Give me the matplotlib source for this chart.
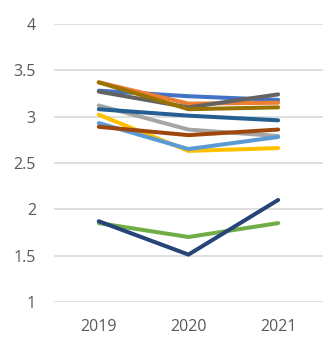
import matplotlib; matplotlib.use("Agg")
import matplotlib.pyplot as plt

years = ["2019", "2020", "2021"]

# series values (one list per line)
s_blue      = [3.28, 3.22, 3.18]
s_orange    = [3.37, 3.14, 3.15]
s_lgray     = [3.12, 2.86, 2.79]
s_yellow    = [3.02, 2.63, 2.66]
s_lblue     = [2.93, 2.65, 2.78]
s_green     = [1.85, 1.70, 1.85]
s_navy      = [1.87, 1.51, 2.10]
s_brown     = [2.89, 2.80, 2.86]
s_dgray     = [3.27, 3.10, 3.24]
s_olive     = [3.37, 3.08, 3.10]
s_dblue     = [3.08, 3.01, 2.96]

series = [s_blue, s_orange, s_lgray, s_yellow, s_lblue, s_green,
          s_navy, s_brown, s_dgray, s_olive, s_dblue]
colors = ["#4472C4", "#ED7D31", "#A5A5A5", "#FFC000", "#5B9BD5", "#70AD47",
          "#264478", "#9E480E", "#636363", "#997300", "#255E91"]

fig = plt.figure(figsize=(3.23, 3.38), dpi=100)
ax = fig.add_axes([0.167, 0.107, 0.833, 0.822])

x = range(len(years))
for vals, c in zip(series, colors):
    ax.plot(x, vals, color=c, lw=2.9, solid_capstyle="round", solid_joinstyle="round")

ax.set_xlim(-0.5, 2.5)
ax.set_ylim(1, 4)
ax.set_yticks([1, 1.5, 2, 2.5, 3, 3.5, 4])
ax.set_yticklabels(["1", "1.5", "2", "2.5", "3", "3.5", "4"])
ax.set_xticks(list(x))
ax.set_xticklabels(years)
ax.grid(axis="y", color="#D9D9D9", lw=1.2)
ax.set_axisbelow(True)
for sp in ax.spines.values():
    sp.set_visible(False)
ax.tick_params(length=0, labelsize=11.5, labelcolor="#595959")
ax.tick_params(axis="y", pad=13)
ax.tick_params(axis="x", pad=12)
for lab in ax.get_yticklabels() + ax.get_xticklabels():
    lab.set_family("Open Sans")

fig.savefig("out.png", dpi=100)
